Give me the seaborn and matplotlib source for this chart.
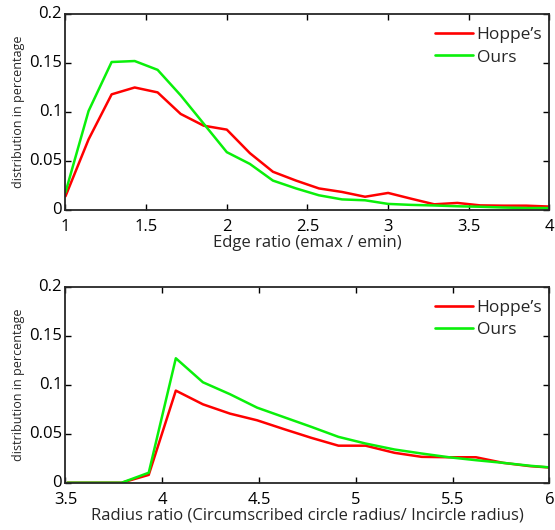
import numpy as np
import pandas as pd
import matplotlib
matplotlib.use("Agg")
import matplotlib.pyplot as plt
from matplotlib.ticker import FuncFormatter
import seaborn as sns

# edge ratio histogram (top)
edge_x = [1.0, 1.143, 1.286, 1.429, 1.571, 1.714, 1.857, 2.0, 2.143, 2.286, 2.429,
          2.571, 2.714, 2.857, 3.0, 3.143, 3.286, 3.429, 3.571, 3.714, 3.857, 4.0]
edge_hoppe = [0.014, 0.072, 0.118, 0.125, 0.120, 0.098, 0.086, 0.082, 0.058, 0.039, 0.030,
              0.022, 0.0184, 0.0135, 0.0174, 0.0115, 0.0058, 0.0072, 0.0047, 0.0044, 0.0044, 0.0035]
edge_ours = [0.018, 0.101, 0.151, 0.152, 0.143, 0.117, 0.088, 0.059, 0.047, 0.030, 0.022,
             0.015, 0.0108, 0.0099, 0.0062, 0.0052, 0.0046, 0.0038, 0.0033, 0.0025, 0.002, 0.002]

# radius ratio histogram (bottom)
radius_x = [3.51, 3.65, 3.79, 3.93, 4.07, 4.21, 4.35, 4.49, 4.63, 4.77, 4.91, 5.05,
            5.2, 5.34, 5.48, 5.62, 5.76, 5.9, 6.04]
radius_hoppe = [0.0, 0.0, 0.0, 0.008, 0.094, 0.080, 0.0705, 0.0637, 0.0546, 0.0458, 0.0378,
                0.0378, 0.0305, 0.0264, 0.026, 0.026, 0.0203, 0.0169, 0.015]
radius_ours = [0.0, 0.0, 0.0, 0.0102, 0.127, 0.1025, 0.0903, 0.0766, 0.0668, 0.057, 0.0468,
               0.040, 0.0339, 0.0298, 0.026, 0.023, 0.0203, 0.0173, 0.015]

series = ["Hoppe\u2019s", "Ours"]
palette = {"Hoppe\u2019s": "#ff0000", "Ours": "#0af00a"}

sns.set_style("ticks")
plt.rcParams["font.family"] = ["Open Sans", "DejaVu Sans"]


def long_form(x, a, b):
    return pd.DataFrame({
        "x": list(x) + list(x),
        "y": list(a) + list(b),
        "method": [series[0]] * len(x) + [series[1]] * len(x),
    })


def style_axes(ax, xlim, xticks, xlabel):
    ax.set_xlim(*xlim)
    ax.set_ylim(0, 0.2)
    ax.set_xticks(xticks)
    ax.set_yticks([0, 0.05, 0.1, 0.15, 0.2])
    fmt = FuncFormatter(lambda v, _: f"{v:g}")
    ax.xaxis.set_major_formatter(fmt)
    ax.yaxis.set_major_formatter(fmt)
    ax.tick_params(direction="in", length=4, width=1, top=True, right=True,
                   labelsize=12, colors="black")
    ax.tick_params(axis="x", pad=6.5)
    ax.tick_params(axis="y", pad=2.5)
    for lab in ax.get_yticklabels():
        lab.set_va("center")
    for side in ax.spines.values():
        side.set_visible(True)
        side.set_linewidth(1.3)
    ax.set_xlabel(xlabel, fontsize=12, labelpad=0)
    ax.set_ylabel("distribution in percentage", fontsize=9, labelpad=3)
    ax.legend(frameon=False, loc="upper right", fontsize=12.5, handlelength=2.17,
              handletextpad=0.2, labelspacing=0.36, borderpad=0.75, borderaxespad=0.0,
              bbox_to_anchor=(1.012, 1.0))


fig = plt.figure(figsize=(5.55, 5.30), dpi=100)
ax1 = fig.add_axes([0.118, 0.6038, 0.872, 0.3698])
ax2 = fig.add_axes([0.118, 0.0892, 0.872, 0.3698])

sns.lineplot(data=long_form(edge_x, edge_hoppe, edge_ours), x="x", y="y", hue="method",
             palette=palette, linewidth=1.8, ax=ax1, sort=False)
style_axes(ax1, (1, 4), [1, 1.5, 2, 2.5, 3, 3.5, 4], "Edge ratio (emax / emin)")

sns.lineplot(data=long_form(radius_x, radius_hoppe, radius_ours), x="x", y="y", hue="method",
             palette=palette, linewidth=1.8, ax=ax2, sort=False)
style_axes(ax2, (3.5, 6), [3.5, 4, 4.5, 5, 5.5, 6],
           "Radius ratio (Circumscribed circle radius/ Incircle radius)")

for line in ax1.get_legend().get_lines() + ax2.get_legend().get_lines():
    line.set_linewidth(1.9)

fig.savefig("out.png", dpi=100)
